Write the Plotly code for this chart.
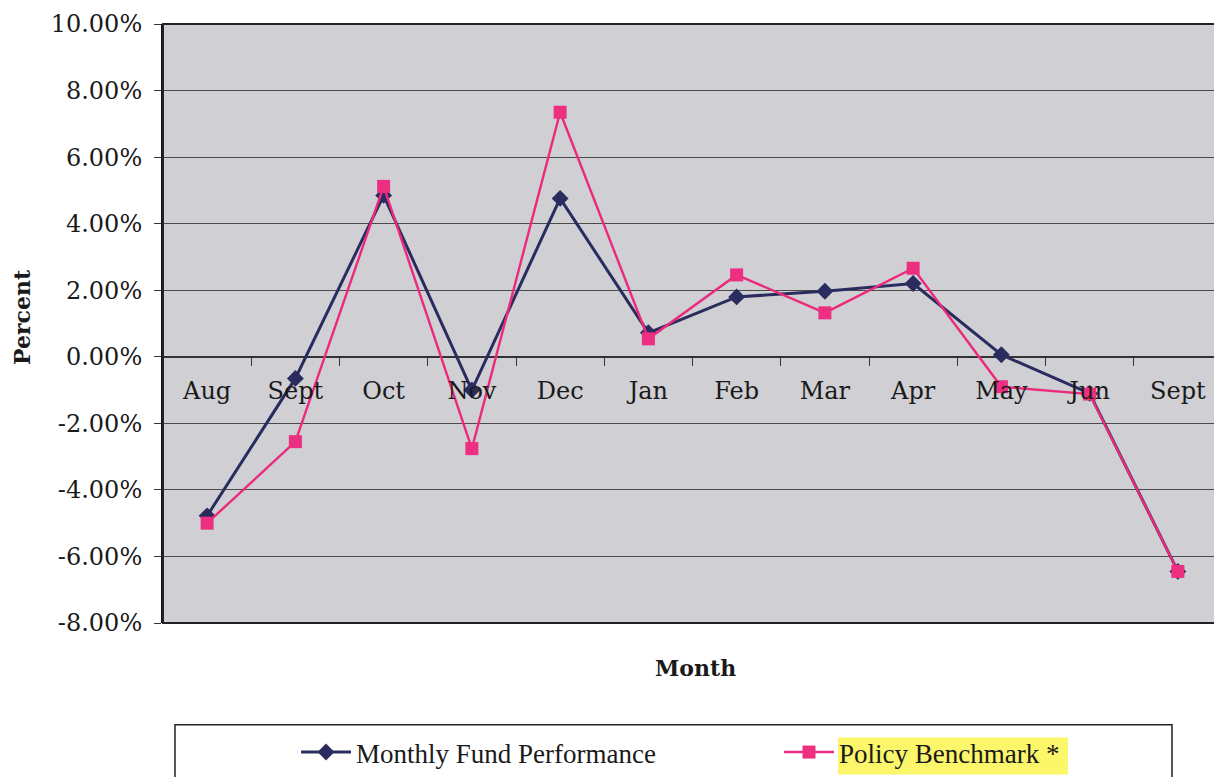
import plotly.graph_objects as go

months = ["Aug", "Sept", "Oct", "Nov", "Dec", "Jan", "Feb", "Mar", "Apr", "May", "Jun", "Sept"]
fund = [-4.78, -0.65, 4.85, -1.0, 4.76, 0.72, 1.8, 1.97, 2.2, 0.06, -1.1, -6.45]
benchmark = [-5.0, -2.55, 5.12, -2.76, 7.35, 0.54, 2.46, 1.32, 2.66, -0.9, -1.12, -6.45]
y_ticks = [-8, -6, -4, -2, 0, 2, 4, 6, 8, 10]

xs = list(range(len(months)))
serif = "DejaVu Serif"

# page body offset (default 8px margin)
O = 8
W, H = 1222 - O, 777 - O
# desired screen coords of plot area
S_L, S_T, S_B = 163, 24, 625
L, T = S_L - O, S_T - O
B = H - (S_B - O)
pw = W - L
ph = H - T - B


def px_x(p):
    return (p - S_L) / pw


def px_y(p):
    return (S_B - p) / ph


fig = go.Figure()
fig.add_trace(go.Scatter(
    x=xs, y=fund, mode="lines+markers", name="Monthly Fund Performance",
    line=dict(color="#2a2c5f", width=3),
    marker=dict(symbol="diamond", size=13, color="#2a2c5f"),
    legend="legend",
))
fig.add_trace(go.Scatter(
    x=xs, y=benchmark, mode="lines+markers", name="Policy Benchmark *",
    line=dict(color="#ec2a7c", width=2.4),
    marker=dict(symbol="square", size=13, color="#ec2f80"),
    legend="legend2",
))

leg_font = dict(family="Liberation Serif", size=27, color="#1a1a1a")

fig.update_layout(
    width=W, height=H,
    margin=dict(l=L, r=0, t=T, b=B),
    paper_bgcolor="white",
    plot_bgcolor="#cfcfd4",
    font=dict(family=serif, color="#1a1a1a", size=24),
    showlegend=True,
    legend=dict(
        orientation="h", x=px_x(296), y=px_y(755), xanchor="left", yanchor="middle",
        font=leg_font, bgcolor="rgba(0,0,0,0)", itemwidth=50,
    ),
    legend2=dict(
        orientation="h", x=px_x(779), y=px_y(755), xanchor="left", yanchor="middle",
        font=leg_font, bgcolor="rgba(0,0,0,0)", itemwidth=50,
    ),
    xaxis=dict(
        range=[-0.5, 11.5], tickmode="array", tickvals=xs, ticktext=months,
        showgrid=False, zeroline=False, showline=False,
        anchor="free", position=8 / 18,
        ticks="outside", ticklen=12, tickcolor="rgba(0,0,0,0)",
        tickfont=dict(family=serif, size=24, color="#1a1a1a"),
        minor=dict(tickmode="array", tickvals=[i - 0.5 for i in range(13)],
                   ticks="outside", ticklen=8, tickcolor="#333333", tickwidth=1, showgrid=False),
    ),
    yaxis=dict(
        range=[-8, 10], tickmode="array", tickvals=y_ticks,
        ticktext=[f"{v:.2f}%" for v in y_ticks],
        showgrid=True, gridcolor="#4a4a4a", gridwidth=1,
        zeroline=True, zerolinecolor="#333333", zerolinewidth=1.5,
        showline=True, linecolor="#111111", linewidth=2,
        ticks="outside", ticklen=7, tickcolor="#333333",
        ticklabelstandoff=7,
        tickfont=dict(family=serif, size=24, color="#1a1a1a"),
    ),
    shapes=[
        dict(type="rect", xref="paper", yref="paper", x0=0, x1=1.01, y0=0, y1=1,
             line=dict(color="#222222", width=2), layer="above"),
        dict(type="rect", xref="paper", yref="paper", x0=px_x(175), x1=px_x(1172),
             y0=px_y(727), y1=px_y(790), line=dict(color="#222222", width=1.5),
             fillcolor="rgba(0,0,0,0)", layer="above"),
        dict(type="rect", xref="paper", yref="paper", x0=px_x(838), x1=px_x(1068),
             y0=px_y(740), y1=px_y(777), line=dict(width=0),
             fillcolor="#fbf66a", layer="below"),
    ],
    annotations=[
        dict(text="<b>Percent</b>", xref="paper", yref="paper", x=px_x(22), y=px_y(318),
             xanchor="center", yanchor="middle", textangle=-90, showarrow=False,
             font=dict(family=serif, size=22, color="#1a1a1a")),
        dict(text="<b>Month</b>", xref="paper", yref="paper", x=px_x(695), y=px_y(670),
             xanchor="center", yanchor="middle", showarrow=False,
             font=dict(family=serif, size=22, color="#1a1a1a")),
    ],
)

fig.write_html("out.html")
